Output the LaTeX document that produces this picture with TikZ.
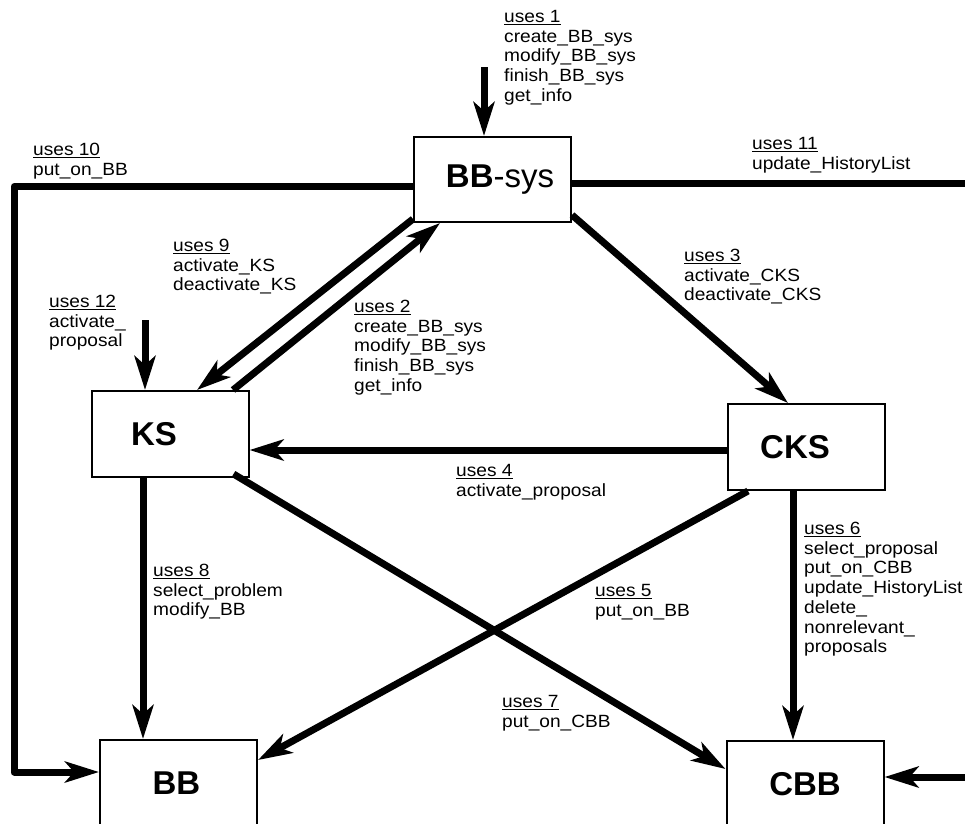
\documentclass[tikz,border=0pt]{standalone}
\usepackage{fontspec}
\setmainfont{Liberation Sans}
\newfontfamily\labelfont{Liberation Sans}[FakeStretch=1.08]
\usetikzlibrary{arrows.meta, positioning, calc}

\tikzset{
  modbox/.style={draw, line width=2pt, minimum width=157pt, minimum height=86pt,
    inner sep=0pt, font=\fontsize{33}{36}\selectfont\bfseries},
  usesnote/.style={anchor=north west, inner sep=0pt, align=left,
    font=\labelfont\fontsize{17.7}{19.7}\selectfont},
  bar/.style={line width=7pt, line join=round},
  flow/.style={bar, -{Stealth[length=34pt, width=21pt, inset=9pt]}},
}

\begin{document}
\begin{tikzpicture}[x=1pt, y=-1pt]
  \clip (0,0) rectangle (965,823);
  \fill[white] (0,0) rectangle (965,823);

  % modules
  \node[modbox, minimum height=85pt] (BBsys) at (492.5,179.5) {\hspace*{15pt}BB\mdseries-sys};
  \node[modbox] (KS)  at (170,434)   {KS\hspace*{32pt}};
  \node[modbox] (CKS) at (806,447)   {CKS\hspace*{22pt}};
  \node[modbox] (BB)  at (178.5,783) {BB\hspace*{4pt}};
  \node[modbox] (CBB) at (805,784)   {CBB};

  % free ends
  \coordinate (in1)  at (484,67);
  \coordinate (in12) at (145,320);
  \coordinate (in13) at (975,777);
  \coordinate (out11) at (975,183);
  \coordinate (leftrail) at (14,480);

  % uses relations
  \draw[flow] (in1) -- (in1 |- BBsys.north);
  \draw[flow] ([yshift=-7pt]BBsys.west) -| (leftrail) |- ([yshift=11pt]BB.west);
  \draw[bar] ([yshift=-3.5pt]BBsys.east) -- (out11);
  \draw[flow] ([yshift=4pt]BBsys.south west) -- ([xshift=27pt]KS.north);
  \draw[flow] ([xshift=63pt]KS.north) -- ([xshift=-52.5pt]BBsys.south);
  \draw[flow] ([yshift=8pt]BBsys.south east) -- ([xshift=-18pt]CKS.north);
  \draw[flow] (in12) -- (in12 |- KS.north);
  \draw[flow] ([yshift=-3pt]CKS.west) -- ([yshift=-16pt]KS.east);
  \draw[flow] ([xshift=-58pt]CKS.south) -- ([yshift=23pt]BB.east);
  \draw[flow] ([xshift=-16pt,yshift=4pt]KS.south east) -- ([yshift=15pt]CBB.west);
  \draw[flow] ([xshift=-13pt]CKS.south) -- ([xshift=-12pt]CBB.north);
  \draw[flow] ([xshift=-27pt]KS.south) -- ([xshift=-35.5pt]BB.north);
  \draw[flow] (in13) -- (in13 -| CBB.east);

  % labels
  \node[usesnote] (l1)  at (504,10)  {\underline{uses 1}\\create\_BB\_sys\\modify\_BB\_sys\\finish\_BB\_sys\\get\_info};
  \node[usesnote] (l10) at (33,143)  {\underline{uses 10}\\put\_on\_BB};
  \node[usesnote] (l11) at (752,137) {\underline{uses 11}\\update\_HistoryList};
  \node[usesnote] (l9)  at (173,239) {\underline{uses 9}\\activate\_KS\\deactivate\_KS};
  \node[usesnote] (l12) at (49,295)  {\underline{uses 12}\\activate\_\\proposal};
  \node[usesnote] (l2)  at (354,300) {\underline{uses 2}\\create\_BB\_sys\\modify\_BB\_sys\\finish\_BB\_sys\\get\_info};
  \node[usesnote] (l3)  at (684,249) {\underline{uses 3}\\activate\_CKS\\deactivate\_CKS};
  \node[usesnote] (l4)  at (456,464) {\underline{uses 4}\\activate\_proposal};
  \node[usesnote] (l5)  at (595,584) {\underline{uses 5}\\put\_on\_BB};
  \node[usesnote] (l6)  at (804,522) {\underline{uses 6}\\select\_proposal\\put\_on\_CBB\\update\_HistoryList\\delete\_\\nonrelevant\_\\proposals};
  \node[usesnote] (l7)  at (502,695) {\underline{uses 7}\\put\_on\_CBB};
  \node[usesnote] (l8)  at (153,564) {\underline{uses 8}\\select\_problem\\modify\_BB};
\end{tikzpicture}
\end{document}
